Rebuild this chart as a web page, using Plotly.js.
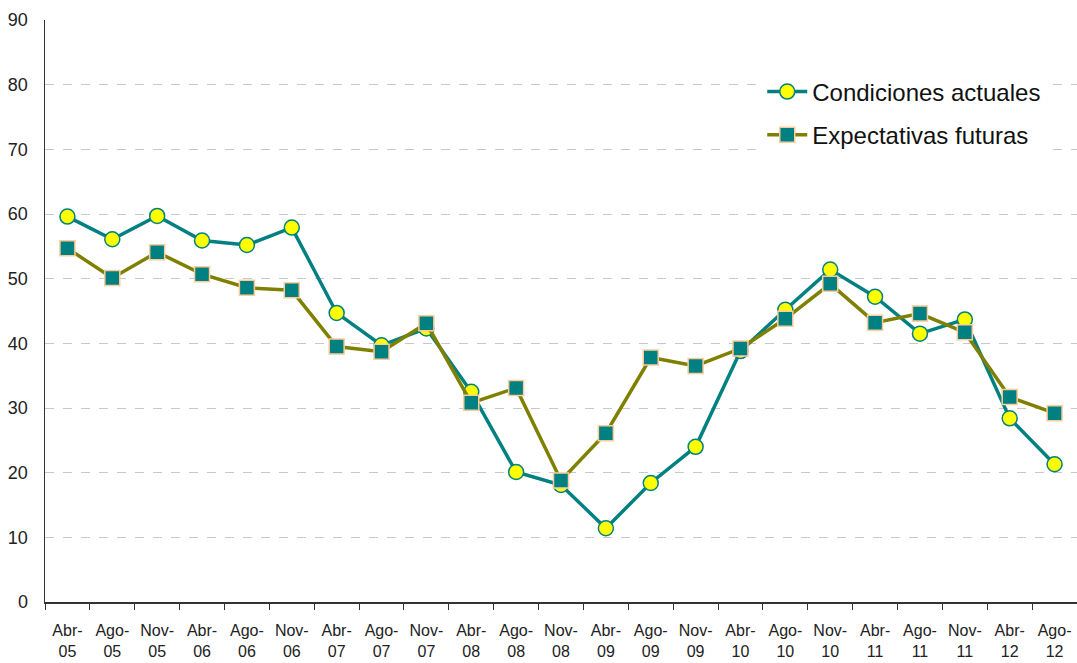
<!DOCTYPE html>
<html>
<head>
<meta charset="utf-8">
<script src="https://cdn.plot.ly/plotly-3.0.1.min.js"></script>
<style>html,body{margin:0;padding:0;background:#fff}#chart{width:1077px;height:663px}</style>
</head>
<body>
<div id="chart"></div>
<script>
const months = ["Abr","Ago","Nov","Abr","Ago","Nov","Abr","Ago","Nov","Abr","Ago","Nov","Abr","Ago","Nov","Abr","Ago","Nov","Abr","Ago","Nov","Abr","Ago"];
const years  = ["05","05","05","06","06","06","07","07","07","08","08","08","09","09","09","10","10","10","11","11","11","12","12"];
const condicionesActuales = [59.6,56.1,59.7,55.9,55.2,57.9,44.7,39.7,42.3,32.5,20.1,18.1,11.4,18.4,24.0,38.8,45.2,51.4,47.2,41.5,43.7,28.4,21.3];
const expectativasFuturas = [54.7,50.1,54.1,50.7,48.6,48.2,39.5,38.7,43.1,30.8,33.1,18.8,26.1,37.8,36.5,39.2,43.8,49.2,43.2,44.6,41.7,31.7,29.2];
const seriesNames = ["Condiciones actuales","Expectativas futuras"];

const cats = months.map((m,i)=>m+"-<br>"+years[i]);
const font = "'Liberation Sans Narrow', 'Arial Narrow', 'Liberation Sans', Arial, sans-serif";

const traces = [
  {x:cats, y:condicionesActuales, name:seriesNames[0], legendgroup:"a", type:"scatter", mode:"lines+markers",
   line:{color:"#008080", width:3.5},
   marker:{symbol:"circle", size:15, color:"#FFFF00", line:{color:"#008080", width:1.5}}},
  {x:cats, y:expectativasFuturas, name:seriesNames[1], legendgroup:"b", type:"scatter", mode:"lines+markers",
   line:{color:"#808000", width:3.5},
   marker:{symbol:"square", size:15, color:"#008080", line:{color:"#FFCC99", width:1.5}}}
];

const layout = {
  width:1077, height:663,
  margin:{l:45, r:0, t:20, b:61},
  paper_bgcolor:"#fff", plot_bgcolor:"#fff",
  font:{family:font, color:"#222"},
  showlegend:true,
  legend:{x:0.695, y:0.915, xanchor:"left", yanchor:"top", bgcolor:"#fff",
    font:{size:24, family:font, color:"#111"}, itemwidth:40, traceorder:"grouped", tracegroupgap:9},
  xaxis:{type:"category", categoryorder:"array", categoryarray:cats,
    range:[-0.5,22.5], tickson:"boundaries", ticks:"outside", ticklen:6, tickcolor:"#333",
    showline:true, linecolor:"#333", linewidth:1.5, showgrid:false, zeroline:false,
    ticklabelstandoff:13,
    tickfont:{size:16, family:font, color:"#222"}, tickangle:0},
  yaxis:{range:[0,90], dtick:10, tick0:0, showline:true, linecolor:"#333", linewidth:1.5,
    showgrid:true, gridcolor:"#c8c8c8", griddash:"dash", gridwidth:1, zeroline:false,
    ticks:"", ticklabelstandoff:12, tickfont:{size:18, family:font, color:"#222"}}
};

Plotly.newPlot("chart", traces, layout, {displayModeBar:false, staticPlot:true});
</script>
</body>
</html>
